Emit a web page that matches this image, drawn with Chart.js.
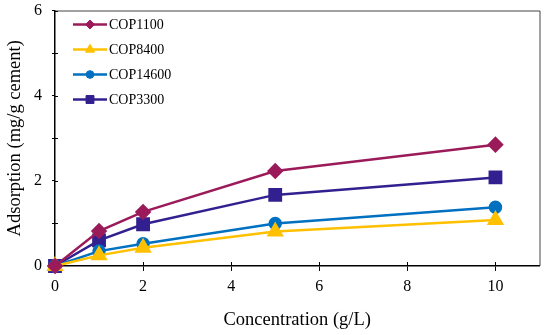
<!DOCTYPE html>
<html>
<head>
<meta charset="utf-8">
<script src="https://cdn.jsdelivr.net/npm/chart.js@4"></script>
<style>
  body { margin: 0; background: #fff; }
  #wrap { width: 550px; height: 335px; }
</style>
</head>
<body>
<div id="wrap"><canvas id="adsChart"></canvas></div>
<script>
// donnees
const concentrations = [0, 1, 2, 5, 10];
const cop1100 = [0, 0.82, 1.27, 2.23, 2.85];
const cop8400 = [0, 0.25, 0.43, 0.81, 1.08];
const cop14600 = [0, 0.35, 0.52, 1.0, 1.38];
const cop3300 = [0, 0.6, 0.98, 1.67, 2.08];
const seriesNames = ['COP1100', 'COP8400', 'COP14600', 'COP3300'];
const xTickValues = [0, 2, 4, 6, 8, 10];
const yTickLabels = [0, 2, 4, 6];

function pts(ys) {
    return concentrations.map((x, i) => ({ x: x, y: ys[i] }));
}

const serif = "'Liberation Serif', 'Times New Roman', serif";

// cadre, petites graduations internes + legende
const framePlugin = {
    id: 'frame',
    beforeDatasetsDraw(chart) {
        const { ctx, chartArea: a, scales } = chart;
        ctx.save();
        ctx.strokeStyle = '#444';
        ctx.lineWidth = 1;
        ctx.beginPath();
        ctx.moveTo(a.left, a.top + 0.5);
        ctx.lineTo(a.right + 0.5, a.top + 0.5);
        ctx.lineTo(a.right + 0.5, a.bottom);
        ctx.stroke();

        ctx.strokeStyle = '#000';
        ctx.lineWidth = 1;
        ctx.beginPath();
        scales.x.ticks.forEach(t => {
            const px = Math.round(scales.x.getPixelForValue(t.value)) + 0.5;
            ctx.moveTo(px, a.bottom);
            ctx.lineTo(px, a.bottom - 4);
        });
        scales.y.ticks.forEach(t => {
            const py = Math.round(scales.y.getPixelForValue(t.value)) + 0.5;
            ctx.moveTo(a.left, py);
            ctx.lineTo(a.left + 3, py);
        });
        ctx.stroke();
        ctx.restore();
    },
    afterDatasetsDraw(chart) {
        const { ctx, chartArea: a } = chart;
        ctx.save();
        chart.data.datasets.forEach((ds, i) => {
            const y = a.top + 14 + i * 25;
            const x0 = a.left + 18, x1 = a.left + 52;
            ctx.strokeStyle = ds.borderColor;
            ctx.fillStyle = ds.borderColor;
            ctx.lineWidth = 2.5;
            ctx.beginPath();
            ctx.moveTo(x0, y);
            ctx.lineTo(x1, y);
            ctx.stroke();
            ctx.lineWidth = 1;
            Chart.helpers.drawPoint(ctx, {
                pointStyle: ds.pointStyle,
                radius: ds.pointRadius * 0.7,
                borderWidth: 1
            }, (x0 + x1) / 2, y);
            ctx.fillStyle = '#000';
            ctx.font = '14px ' + serif;
            ctx.textBaseline = 'middle';
            ctx.fillText(ds.label, x1 + 2, y + 1);
        });
        ctx.restore();
    }
};

const colors = ['#9b1b5a', '#ffc000', '#0070c0', '#332090'];
const styles = ['rectRot', 'triangle', 'circle', 'rect'];
const radii = [6.5, 7.5, 5.5, 8];
const values = [cop1100, cop8400, cop14600, cop3300];

const datasets = seriesNames.map((name, i) => ({
    label: name,
    data: pts(values[i]),
    borderColor: colors[i],
    backgroundColor: colors[i],
    pointBackgroundColor: colors[i],
    pointBorderColor: colors[i],
    pointStyle: styles[i],
    pointRadius: radii[i],
    borderWidth: 2.5,
    clip: false
}));

const ctx = document.getElementById('adsChart').getContext('2d');
let adsChart = new Chart(ctx, {
    type: 'line',
    data: { datasets: datasets },
    plugins: [framePlugin],
    options: {
        responsive: true,
        maintainAspectRatio: false,
        animation: false,
        layout: { padding: { top: 9, right: 7, left: 0, bottom: 0 } },
        plugins: { legend: { display: false }, tooltip: { enabled: false } },
        scales: {
            x: {
                type: 'linear',
                min: 0,
                max: 11,
                afterBuildTicks(scale) {
                    scale.ticks = xTickValues.map(v => ({ value: v }));
                },
                afterFit(scale) { scale.height = 69; },
                grid: { drawOnChartArea: false, tickLength: 5, color: '#000' },
                border: { color: '#000', width: 1.5 },
                ticks: { color: '#000', font: { family: serif, size: 16 }, padding: 6, maxRotation: 0 },
                title: {
                    display: true,
                    text: 'Concentration (g/L)',
                    color: '#000',
                    font: { family: serif, size: 18.5 },
                    padding: { top: 6 }
                }
            },
            y: {
                min: 0,
                max: 6,
                afterFit(scale) {
                    scale.width = 55;
                    scale.paddingTop = 0;
                    scale.paddingBottom = 0;
                },
                grid: { drawOnChartArea: false, tickLength: 3, color: '#000' },
                border: { color: '#000', width: 1.5 },
                ticks: {
                    stepSize: 1,
                    color: '#000',
                    font: { family: serif, size: 16 },
                    padding: 10,
                    callback: v => yTickLabels.includes(v) ? v : ''
                },
                title: {
                    display: true,
                    text: 'Adsorption (mg/g cement)',
                    color: '#000',
                    font: { family: serif, size: 18.5 },
                    padding: { bottom: 0 }
                }
            }
        }
    }
});
</script>
</body>
</html>
